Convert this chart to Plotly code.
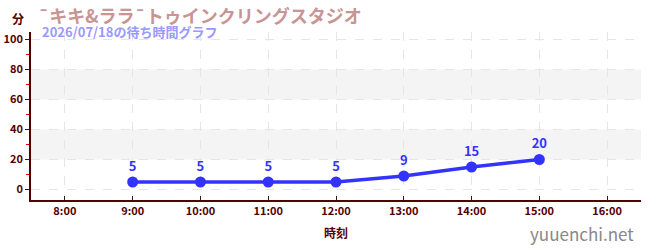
import plotly.graph_objects as go

hours = [9, 10, 11, 12, 13, 14, 15]
waits = [5, 5, 5, 5, 9, 15, 20]
xtick_vals = [8, 9, 10, 11, 12, 13, 14, 15, 16]
xtick_text = ["8:00", "9:00", "10:00", "11:00", "12:00", "13:00", "14:00", "15:00", "16:00"]
ytick_vals = [0, 20, 40, 60, 80, 100]
title = "¯キキ&ララ¯トゥインクリングスタジオ"
subtitle = "2026/07/18の待ち時間グラフ"

FONT = "Noto Sans CJK JP"
AX = "#550000"

W, H = 650, 250
l, r, t, b = 31, 9, 32, 50
pw, ph = W - l - r, H - t - b

fig = go.Figure()
fig.add_trace(go.Scatter(
    x=hours, y=waits, mode="lines+markers+text",
    line=dict(color="#3333ff", width=3.5),
    marker=dict(color="#3333ff", size=11),
    text=[str(v) for v in waits], textposition="top center",
    textfont=dict(color="#3333ff", size=13, family=FONT, weight="bold"),
    cliponaxis=False, showlegend=False,
))

for lo, hi in [(20, 40), (60, 80)]:
    fig.add_hrect(y0=lo, y1=hi, fillcolor="#f4f4f4", line_width=0, layer="below")

def pa(txt, px, py, xa, ya, font):
    return dict(text=txt, x=(px - l) / pw, y=(H - b - py) / ph, xref="paper", yref="paper",
                xanchor=xa, yanchor=ya, showarrow=False, font=font)

fig.update_layout(
    width=W, height=H,
    margin=dict(l=l, r=r, t=t, b=b, autoexpand=False),
    paper_bgcolor="white", plot_bgcolor="white",
    font=dict(family=FONT, color=AX, size=11),
    xaxis=dict(
        range=[7.5, 16.5], tickvals=xtick_vals, ticktext=xtick_text, automargin=False,
        showline=True, linecolor=AX, linewidth=1.5, mirror=False,
        ticks="inside", ticklen=4, tickcolor="#222222",
        showgrid=True, gridcolor="#e6e6e6", griddash="dash", gridwidth=1,
        zeroline=False,
        tickfont=dict(size=11, color=AX, family=FONT, weight="bold"),
        title=dict(text="時刻", font=dict(size=12, color=AX, family=FONT, weight="bold"), standoff=13),
    ),
    yaxis=dict(
        range=[-7, 105], tickvals=ytick_vals, automargin=False,
        showline=True, linecolor=AX, linewidth=1.5,
        ticks="outside", ticklen=4, tickcolor="#222222",
        minor=dict(tickvals=[10, 30, 50, 70, 90], ticks="outside", ticklen=3, tickcolor="#dd0000", showgrid=False),
        showgrid=True, gridcolor="#e6e6e6", griddash="dash", gridwidth=1,
        zeroline=False,
        tickfont=dict(size=11, color=AX, family=FONT, weight="bold"),
    ),
    annotations=[
        pa(title, 36, 0, "left", "top", dict(size=18, color="#c89494", family=FONT, weight="bold")),
        pa("分", 18, 18, "center", "middle", dict(size=12, color=AX, family=FONT, weight="bold")),
        pa(subtitle, 40, 31, "left", "middle", dict(size=13, color="#9999ff", family=FONT, weight="bold")),
        pa("yuuenchi.net", 636, 233, "right", "middle", dict(size=17, color="#888888", family=FONT)),
    ],
)

fig.write_html("out.html")
